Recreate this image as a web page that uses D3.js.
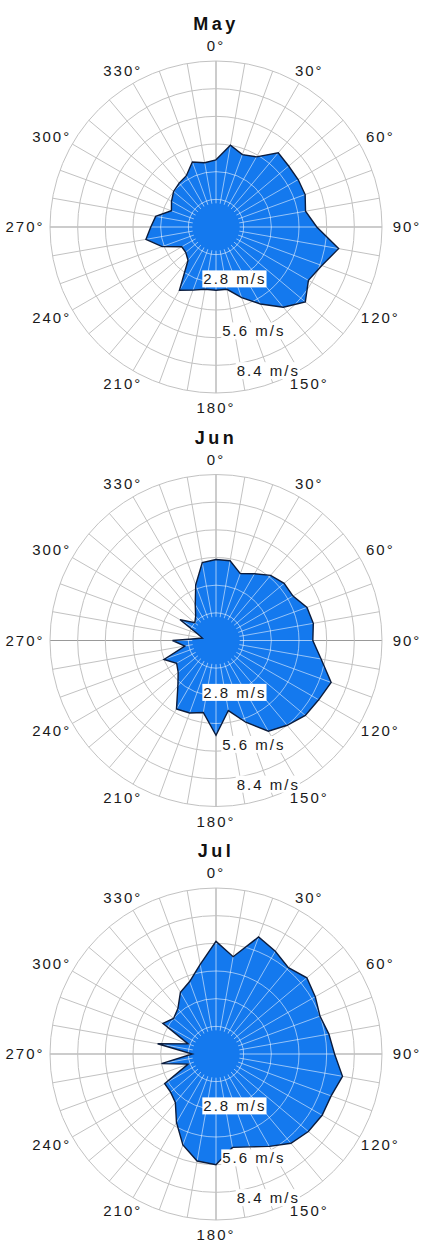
<html>
    <head>
        <script src="https://cdn.jsdelivr.net/npm/d3@7"></script>
        <style>
            body { margin: 0; background: #fff; }
            text { font-family: "Liberation Sans", Arial, sans-serif; }
        </style>
    </head>
    <body>
        <svg id="chart"></svg>
        <script>
            // wind speed (m/s) by direction, one polygon per month
            var months = ["May", "Jun", "Jul"];
            var directions = [0, 10, 20, 30, 40, 50, 60, 70, 80, 90, 100, 110, 120, 130, 140, 150, 160, 170,
                              180, 190, 200, 210, 220, 230, 240, 250, 260, 270, 280, 290, 300, 310, 320, 330, 340, 350];
            var maySpeed = [3.4, 4.2, 3.9, 4.1, 4.9, 4.8, 4.8, 4.8, 4.6, 5.1, 6.3, 5.7, 5.4, 5.9, 5.3, 4.5, 3.8, 3.2,
                            3.2, 3.2, 3.4, 3.7, 2.2, 2.0, 2.0, 2.9, 3.6, 3.3, 3.1, 2.4, 2.6, 2.8, 2.9, 3.0, 3.5, 3.3];
            var junSpeed = [4.1, 4.1, 3.6, 3.9, 4.3, 4.5, 4.5, 4.9, 5.0, 4.9, 5.4, 6.2, 6.0, 5.9, 5.6, 5.3, 4.4, 3.6,
                            4.8, 3.7, 3.9, 4.0, 3.0, 2.5, 2.3, 2.8, 1.6, 2.2, 0.7, 1.0, 2.1, 1.4, 1.6, 2.1, 3.0, 4.0];
            var julSpeed = [5.7, 5.0, 6.3, 6.0, 5.7, 6.0, 5.8, 5.6, 5.8, 6.0, 6.5, 6.2, 6.2, 6.1, 5.9, 5.4, 5.0, 4.8,
                            5.6, 5.5, 4.9, 4.0, 3.2, 3.0, 3.0, 1.5, 2.8, 1.2, 3.0, 1.5, 3.1, 2.8, 3.0, 3.6, 3.9, 4.6];
            var speeds = [maySpeed, junSpeed, julSpeed];
            var angleTicks = [0, 30, 60, 90, 120, 150, 180, 210, 240, 270, 300, 330];
            var ringSteps = [1.4, 2.8, 4.2, 5.6, 7.0, 8.4];
            var speedTicks = [2.8, 5.6, 8.4];
            var calmSpeed = 1.2;

            var width = 424, height = 1247;
            var outerR = 166;
            var cx = 216, cy0 = 227, panelH = 413.5;

            var r = d3.scaleLinear().domain([0, 8.4]).range([0, outerR]);
            var ang = d3.scaleLinear().domain([0, 360]).range([0, 2 * Math.PI]);

            var svg = d3.select("#chart").attr("width", width).attr("height", height);

            function drawGrid(g, stroke, axisStroke) {
                g.selectAll("line.spoke")
                    .data(directions)
                    .enter()
                    .append("line")
                    .attr("class", "spoke")
                    .attr("x1", 0).attr("y1", 0)
                    .attr("x2", d => outerR * Math.sin(ang(d)))
                    .attr("y2", d => -outerR * Math.cos(ang(d)))
                    .attr("stroke", d => d % 90 == 0 ? axisStroke : stroke)
                    .attr("stroke-width", 1);
                g.selectAll("circle.ring")
                    .data(ringSteps)
                    .enter()
                    .append("circle")
                    .attr("class", "ring")
                    .attr("r", d => r(d))
                    .attr("fill", "none")
                    .attr("stroke", stroke)
                    .attr("stroke-width", 1);
            }

            var rose = d3.lineRadial()
                .angle(d => ang(d.dir))
                .radius(d => r(d.v))
                .curve(d3.curveLinearClosed);

            months.forEach(function(m, i) {
                let g = svg.append("g")
                    .attr("transform", "translate(" + cx + "," + (cy0 + i * panelH) + ")");
                let data = directions.map((d, j) => ({dir: d, v: speeds[i][j]}));

                drawGrid(g.append("g"), "#c2c2c2", "#999");

                g.append("path")
                    .attr("d", rose(data))
                    .attr("fill", "#1479ee");

                let clipId = "clip" + i;
                g.append("clipPath").attr("id", clipId)
                    .append("path").attr("d", rose(data));

                let inner = g.append("g").attr("clip-path", "url(#" + clipId + ")");
                drawGrid(inner, "rgba(255,255,255,0.55)", "rgba(255,255,255,0.6)");
                inner.append("circle")
                    .attr("r", r(calmSpeed))
                    .attr("fill", "#1479ee");

                g.append("path")
                    .attr("d", rose(data))
                    .attr("fill", "none")
                    .attr("stroke", "#0c1c3c")
                    .attr("stroke-width", 1.4)
                    .attr("stroke-linejoin", "miter");

                // direction labels
                g.selectAll("text.dir")
                    .data(angleTicks)
                    .enter()
                    .append("text")
                    .attr("class", "dir")
                    .attr("x", d => (outerR + 16 + 9 * Math.abs(Math.sin(ang(d)))) * Math.sin(ang(d)))
                    .attr("y", d => -(outerR + 15) * Math.cos(ang(d)))
                    .attr("dy", "0.36em")
                    .attr("text-anchor", "middle")
                    .attr("font-size", 15)
                    .attr("letter-spacing", 2)
                    .attr("fill", "#1a1a1a")
                    .text(d => d + "°");

                // speed labels along 160 degrees
                speedTicks.forEach(function(t) {
                    let rr = Math.min(r(t), outerR - 13);
                    let x = rr * Math.sin(ang(160));
                    let y = -rr * Math.cos(ang(160));
                    let lab = g.append("g");
                    let txt = lab.append("text")
                        .attr("x", x).attr("y", y)
                        .attr("dy", "0.36em")
                        .attr("text-anchor", "middle")
                        .attr("font-size", 15)
                        .attr("letter-spacing", 2)
                        .attr("fill", "#1a1a1a")
                        .text(t.toFixed(1) + " m/s");
                    let bb = txt.node().getBBox();
                    lab.insert("rect", "text")
                        .attr("x", bb.x - 1).attr("y", bb.y)
                        .attr("width", bb.width + 1).attr("height", bb.height)
                        .attr("fill", "#fff");
                });

                g.append("text")
                    .attr("x", 0)
                    .attr("y", -197)
                    .attr("text-anchor", "middle")
                    .attr("font-size", 18)
                    .attr("font-weight", "bold")
                    .attr("letter-spacing", 3.5)
                    .attr("fill", "#111")
                    .text(m);
            });
        </script>
    </body>
</html>
